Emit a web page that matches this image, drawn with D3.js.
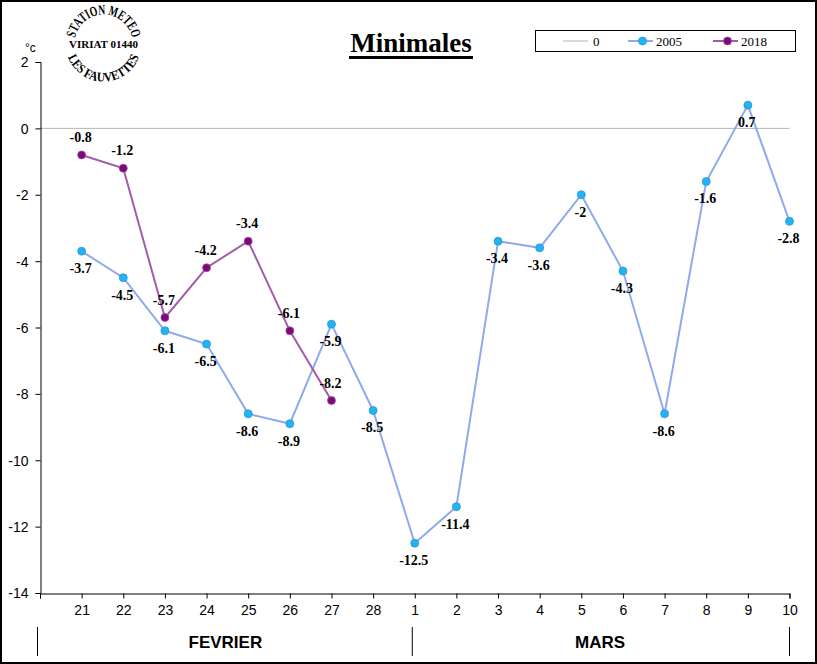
<!DOCTYPE html>
<html><head><meta charset="utf-8">
<script src="https://cdn.jsdelivr.net/npm/d3@7"></script>
<style>body{margin:0;background:#fff}svg{display:block}</style>
</head><body>
<script>
const days = ["21","22","23","24","25","26","27","28","1","2","3","4","5","6","7","8","9","10"];
const months = [{name:"FEVRIER", from:0, to:9},{name:"MARS", from:9, to:18}];
const yTicks = [2,0,-2,-4,-6,-8,-10,-12,-14];
const series2005 = [-3.7,-4.5,-6.1,-6.5,-8.6,-8.9,-5.9,-8.5,-12.5,-11.4,-3.4,-3.6,-2,-4.3,-8.6,-1.6,0.7,-2.8];
const series2018 = [-0.8,-1.2,-5.7,-4.2,-3.4,-6.1,-8.2];
const legendNames = ["0","2005","2018"];

const W=817,H=664;
const svg=d3.select("body").append("svg").attr("width",W).attr("height",H);
svg.append("rect").attr("x",1).attr("y",1).attr("width",W-2).attr("height",H-2).attr("fill","#fff").attr("stroke","#000").attr("stroke-width",2);

const x=d3.scaleLinear().domain([0,days.length]).range([40,789.5]);
const y=d3.scaleLinear().domain([-14,2]).range([593,62]);

// zero line
svg.append("line").attr("x1",40).attr("x2",789.5).attr("y1",y(0)).attr("y2",y(0)).attr("stroke","#b4b4b4").attr("stroke-width",1);

// y axis
const yAx=svg.append("g").attr("transform","translate(40.5,0)")
 .call(d3.axisLeft(y).tickValues(yTicks).tickSize(5).tickFormat(d3.format("d")));
yAx.select(".domain").attr("stroke","#000");
yAx.selectAll(".tick line").attr("stroke","#000");
yAx.selectAll("text").attr("font-family","Arial, 'Liberation Sans', sans-serif").attr("font-size",14).attr("fill","#000").attr("x",-12).attr("dy","0.35em");
yAx.selectAll("text").text(d=>d<0?"-"+Math.abs(d):d);

svg.append("text").attr("x",25).attr("y",52).attr("font-family","Arial, 'Liberation Sans', sans-serif").attr("font-size",12).text("°c");

// x axis
const xAx=svg.append("g").attr("transform",`translate(0,${y(-14)+0.5})`)
 .call(d3.axisBottom(x).tickValues(d3.range(0,days.length+1)).tickSize(5).tickFormat(i=>i===0?"":days[i-1]));
xAx.select(".domain").attr("stroke","#000");
xAx.selectAll(".tick line").attr("stroke","#000");
xAx.selectAll("text").attr("font-family","Arial, 'Liberation Sans', sans-serif").attr("font-size",14).attr("fill","#000").attr("y",12);

// months
months.forEach(m=>{
  svg.append("line").attr("x1",x(m.from)-2.5).attr("x2",x(m.from)-2.5).attr("y1",627).attr("y2",656).attr("stroke","#000");
  svg.append("text").attr("x",(x(m.from)+x(m.to))/2-2).attr("y",648).attr("text-anchor","middle")
   .attr("font-family","'Liberation Sans Narrow', 'Arial Narrow', Arial, sans-serif").attr("font-weight","bold").attr("font-size",17).text(m.name);
});
svg.append("line").attr("x1",x(18)).attr("x2",x(18)).attr("y1",627).attr("y2",656).attr("stroke","#000");

// lines
const line=d3.line().x((d,i)=>x(i+1)).y(d=>y(d));
function drawSeries(data,lc,mf,ms,labelDy){
  svg.append("path").datum(data).attr("d",line).attr("fill","none").attr("stroke",lc).attr("stroke-width",2);
  svg.selectAll(null).data(data).enter().append("circle").attr("cx",(d,i)=>x(i+1)).attr("cy",d=>y(d)).attr("r",4)
   .attr("fill",mf).attr("stroke",ms).attr("stroke-width",0.8);
  svg.selectAll(null).data(data).enter().append("text").attr("x",(d,i)=>x(i+1)-1).attr("y",d=>y(d)+labelDy)
   .attr("text-anchor","middle").attr("font-family","'Times New Roman', 'Liberation Serif', serif").attr("font-weight","bold").attr("font-size",14)
   .text(d=>String(d));
}
drawSeries(series2005,"#8eaaee","#1fb4f2","#3b8fd6",22);
drawSeries(series2018,"#a45ca9","#7a0a7a","#a050a5",-13);

// title
svg.append("text").attr("x",411).attr("y",52).attr("text-anchor","middle").attr("font-family","'Times New Roman', 'Liberation Serif', serif")
 .attr("font-weight","bold").attr("font-size",27).text("Minimales");
svg.append("rect").attr("x",349).attr("y",56).attr("width",124).attr("height",3).attr("fill","#000");

// legend
const lg=svg.append("g");
lg.append("rect").attr("x",535.5).attr("y",30.5).attr("width",260).attr("height",21).attr("fill","#fff").attr("stroke","#000");
const litems=[{x1:563,x2:588,tx:593,c:"#b4b4b4",m:null,w:1},{x1:628,x2:653,tx:656,c:"#8eaaee",m:["#1fb4f2","#3b8fd6"],w:2},{x1:713,x2:738,tx:741,c:"#a45ca9",m:["#7a0a7a","#a050a5"],w:2}];
litems.forEach((it,i)=>{
  lg.append("line").attr("x1",it.x1).attr("x2",it.x2).attr("y1",41).attr("y2",41).attr("stroke",it.c).attr("stroke-width",it.w);
  if(it.m) lg.append("circle").attr("cx",(it.x1+it.x2)/2+2).attr("cy",41).attr("r",4).attr("fill",it.m[0]).attr("stroke",it.m[1]).attr("stroke-width",0.8);
  lg.append("text").attr("x",it.tx).attr("y",45.5).attr("font-family","'Times New Roman', 'Liberation Serif', serif").attr("font-size",13).text(legendNames[i]);
});

// logo
const cx=103.5, cy=43.5, rT=29, rB=38;
const defs=svg.append("defs");
defs.append("path").attr("id","arcTop").attr("d",`M${cx-rT},${cy} A${rT},${rT} 0 0 1 ${cx+rT},${cy}`);
defs.append("path").attr("id","arcBot").attr("d",`M${cx-rB},${cy} A${rB},${rB} 0 0 0 ${cx+rB},${cy}`);
const lf="'Times New Roman', 'Liberation Serif', serif";
const topArcLen=Math.PI*rT, botArcLen=Math.PI*rB;
svg.append("text").attr("font-family",lf).attr("font-weight","bold").attr("font-size",14)
 .append("textPath").attr("href","#arcTop").attr("startOffset",(topArcLen-80)/2).attr("textLength",80).attr("lengthAdjust","spacingAndGlyphs").text("STATION METEO");
svg.append("text").attr("font-family",lf).attr("font-weight","bold").attr("font-size",13)
 .append("textPath").attr("href","#arcBot").attr("startOffset",(botArcLen-92)/2).attr("textLength",92).attr("lengthAdjust","spacingAndGlyphs").text("LES FAUVETTES");
svg.append("text").attr("x",cx).attr("y",cy+4).attr("text-anchor","middle").attr("font-family",lf).attr("font-weight","bold").attr("font-size",11).text("VIRIAT 01440");
</script>
</body></html>
